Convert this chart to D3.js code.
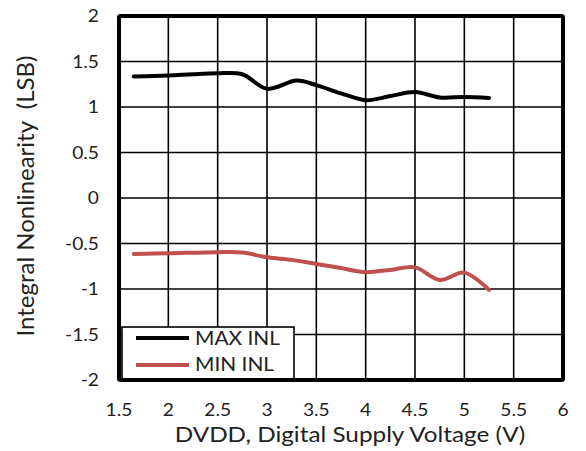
<!DOCTYPE html>
<html><head><meta charset="utf-8">
<script src="https://cdn.jsdelivr.net/npm/d3@7"></script>
<style>body{margin:0;background:#fff}svg{display:block}text{font-family:Lato,"Open Sans",sans-serif;fill:#222}</style>
</head><body><svg id="c" width="586" height="451"></svg>
<script>
const xTicks = [1.5, 2, 2.5, 3, 3.5, 4, 4.5, 5, 5.5, 6];
const yTicks = [-2, -1.5, -1, -0.5, 0, 0.5, 1, 1.5, 2];
const maxX = [1.65, 2.0, 2.25, 2.5, 2.75, 3.0, 3.3, 3.5, 3.75, 4.0, 4.25, 4.5, 4.75, 5.0, 5.25];
const maxY = [1.335, 1.345, 1.36, 1.37, 1.36, 1.2, 1.29, 1.24, 1.15, 1.075, 1.12, 1.165, 1.105, 1.11, 1.10];
const minX = [1.65, 2.0, 2.5, 2.75, 3.0, 3.25, 3.5, 3.75, 4.0, 4.25, 4.5, 4.75, 5.0, 5.25];
const minY = [-0.615, -0.608, -0.595, -0.6, -0.652, -0.68, -0.725, -0.77, -0.815, -0.79, -0.762, -0.9, -0.82, -1.01];
const seriesNames = ["MAX INL", "MIN INL"];
const colors = ["#000000", "#C0504D"];

const SX = 1.13; // horizontal glyph stretch seen in the reference
const svg = d3.select("#c");
const L = 119, R = 563, T = 16, B = 380;
const x = d3.scaleLinear().domain([1.5, 6]).range([L, R]);
const y = d3.scaleLinear().domain([-2, 2]).range([B, T]);

// grid
const g = svg.append("g");
g.selectAll(".vx").data(xTicks).join("line")
  .attr("x1", d => x(d)).attr("x2", d => x(d)).attr("y1", T).attr("y2", B)
  .attr("stroke", "#000").attr("stroke-width", 1.6);
g.selectAll(".hy").data(yTicks).join("line")
  .attr("y1", d => y(d)).attr("y2", d => y(d)).attr("x1", L).attr("x2", R)
  .attr("stroke", "#000").attr("stroke-width", 1.6);

// tick labels
svg.append("g").selectAll("text").data(xTicks).join("text")
  .attr("transform", d => `translate(${x(d)},415.5) scale(${SX},1)`)
  .attr("text-anchor", "middle").style("font-size", "17px").text(d => d);
svg.append("g").selectAll("text").data(yTicks).join("text")
  .attr("transform", d => `translate(99,${y(d) + 6}) scale(${SX},1)`)
  .attr("text-anchor", "end").style("font-size", "17px").text(d => d);

// lines
const line = d3.line().x(d => x(d[0])).y(d => y(d[1])).curve(d3.curveCatmullRom.alpha(0.5));
const data = [d3.zip(maxX, maxY), d3.zip(minX, minY)];
svg.selectAll(".ser").data(data).join("path")
  .attr("d", line).attr("fill", "none")
  .attr("stroke", (d, i) => colors[i]).attr("stroke-width", 4).attr("stroke-linecap", "round");

// legend
const lg = svg.append("g");
lg.append("rect").attr("x", 122).attr("y", 327).attr("width", 172).attr("height", 54)
  .attr("fill", "#fff").attr("stroke", "#000").attr("stroke-width", 1.6);
seriesNames.forEach((n, i) => {
  const yy = 338 + i * 27;
  lg.append("line").attr("x1", 136).attr("x2", 189).attr("y1", yy).attr("y2", yy)
    .attr("stroke", colors[i]).attr("stroke-width", 4);
  lg.append("text").attr("transform", `translate(195,${345 + i * 26}) scale(${SX},1)`)
    .style("font-size", "18.5px").text(n);
});

// frame
svg.append("rect").attr("x", L).attr("y", T).attr("width", R - L).attr("height", B - T)
  .attr("fill", "none").attr("stroke", "#000").attr("stroke-width", 4).attr("rx", 1.5);

// titles
svg.append("text").attr("transform", `translate(350,442) scale(${SX},1)`).attr("text-anchor", "middle")
  .style("font-size", "21.5px").text("DVDD, Digital Supply Voltage (V)");
svg.append("text").attr("transform", `translate(34,196) rotate(-90)`).attr("text-anchor", "middle")
  .style("font-size", "24px").text("Integral Nonlinearity\u00A0 (LSB)");
</script></body></html>
